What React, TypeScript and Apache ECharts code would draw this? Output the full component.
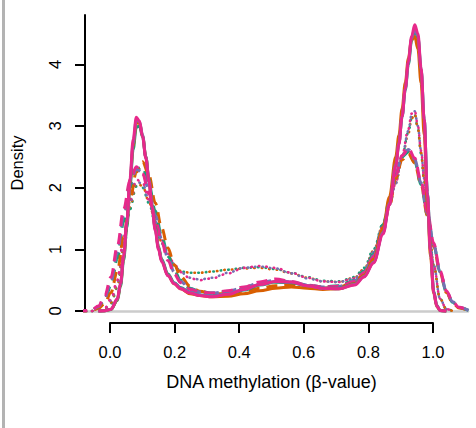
import React, { useEffect, useRef } from "react";
import * as echarts from "echarts";

// x grids (beta value) used for each line type
const xSolid = [-0.06,-0.04,-0.02,0.00,0.01,0.02,0.03,0.04,0.05,0.06,0.07,0.08,0.09,0.10,0.11,0.12,0.13,0.14,0.16,0.18,0.20,0.23,0.26,0.30,0.35,0.40,0.45,0.50,0.55,0.60,0.65,0.70,0.75,0.78,0.81,0.84,0.86,0.88,0.89,0.90,0.91,0.92,0.93,0.94,0.95,0.96,0.97,0.98,0.99,1.00,1.01,1.02,1.04];
const xDashed = [-0.13,-0.10,-0.08,-0.06,-0.04,-0.02,0.00,0.02,0.04,0.06,0.08,0.10,0.12,0.14,0.16,0.18,0.20,0.23,0.26,0.30,0.35,0.40,0.45,0.50,0.55,0.60,0.65,0.70,0.75,0.78,0.81,0.84,0.86,0.88,0.90,0.92,0.94,0.96,0.98,1.00,1.02,1.04,1.06,1.08,1.11];
const xDotted = [-0.08,-0.06,-0.04,-0.02,0.00,0.02,0.04,0.06,0.08,0.10,0.12,0.14,0.16,0.18,0.20,0.23,0.26,0.30,0.35,0.40,0.45,0.50,0.55,0.60,0.65,0.70,0.75,0.78,0.81,0.84,0.86,0.88,0.90,0.92,0.93,0.94,0.95,0.96,0.97,0.98,1.00,1.02,1.04,1.06];

// densities, solid lines
const greenSolid = [0,0.004,0.025,0.17,0.4,0.82,1.35,2.02,2.62,2.98,3.0,2.82,2.5,2.14,1.72,1.35,1.05,0.84,0.6,0.46,0.38,0.3,0.26,0.24,0.27,0.34,0.42,0.47,0.46,0.41,0.37,0.37,0.44,0.57,0.8,1.28,1.75,2.38,2.72,3.15,3.58,4.0,4.38,4.55,4.43,3.92,3.1,1.92,0.98,0.32,0.09,0.01,0];
const orangeSolid = [0,0.004,0.028,0.18,0.42,0.86,1.4,2.07,2.68,3.05,3.05,2.84,2.5,2.12,1.7,1.33,1.03,0.82,0.58,0.44,0.36,0.28,0.25,0.23,0.24,0.28,0.33,0.37,0.39,0.37,0.35,0.36,0.44,0.58,0.84,1.35,1.85,2.5,2.85,3.28,3.7,4.1,4.4,4.45,4.25,3.7,2.85,1.75,0.88,0.28,0.07,0.01,0];
const purpleSolid = [0,0.005,0.03,0.19,0.43,0.87,1.42,2.1,2.72,3.1,3.07,2.85,2.5,2.12,1.7,1.32,1.02,0.82,0.58,0.45,0.37,0.3,0.26,0.24,0.28,0.35,0.43,0.48,0.47,0.41,0.37,0.36,0.43,0.56,0.79,1.27,1.74,2.37,2.72,3.16,3.6,4.03,4.42,4.58,4.46,3.93,3.1,1.92,0.96,0.31,0.08,0.01,0];
const pinkSolid = [0,0.005,0.03,0.2,0.45,0.9,1.45,2.15,2.78,3.14,3.08,2.82,2.48,2.1,1.68,1.3,1.0,0.8,0.57,0.44,0.36,0.29,0.25,0.23,0.27,0.35,0.43,0.48,0.47,0.41,0.37,0.36,0.42,0.55,0.78,1.25,1.72,2.35,2.7,3.15,3.6,4.05,4.45,4.64,4.5,3.95,3.1,1.9,0.95,0.3,0.08,0.01,0];

// densities, dashed lines
const greenDashed = [0,0.003,0.015,0.06,0.18,0.42,0.85,1.45,2.0,2.3,2.33,2.05,1.62,1.22,0.9,0.66,0.5,0.37,0.32,0.29,0.31,0.36,0.43,0.47,0.46,0.41,0.39,0.41,0.5,0.65,0.92,1.4,1.8,2.22,2.5,2.58,2.42,2.05,1.56,1.07,0.63,0.31,0.14,0.05,0.01];
const orangeDashed = [0,0.002,0.01,0.04,0.12,0.3,0.65,1.2,1.8,2.25,2.42,2.2,1.75,1.35,1.02,0.75,0.56,0.4,0.32,0.28,0.28,0.32,0.37,0.41,0.42,0.39,0.37,0.39,0.47,0.6,0.85,1.3,1.7,2.15,2.45,2.55,2.4,2.05,1.55,1.05,0.62,0.3,0.13,0.05,0.01];
const purpleDashed = [0,0.004,0.018,0.07,0.21,0.48,0.95,1.55,2.05,2.3,2.25,1.95,1.55,1.17,0.86,0.63,0.48,0.36,0.31,0.29,0.32,0.38,0.46,0.5,0.47,0.42,0.39,0.4,0.49,0.63,0.9,1.37,1.78,2.22,2.52,2.62,2.46,2.08,1.58,1.08,0.64,0.32,0.15,0.06,0.01];
const pinkDashed = [0,0.005,0.02,0.08,0.25,0.55,1.05,1.65,2.12,2.34,2.22,1.9,1.5,1.12,0.82,0.6,0.46,0.35,0.31,0.29,0.33,0.39,0.47,0.52,0.48,0.42,0.39,0.40,0.48,0.62,0.88,1.35,1.75,2.2,2.52,2.64,2.48,2.1,1.6,1.1,0.65,0.33,0.15,0.06,0.01];

// densities, dotted lines
const greenDotted = [0,0.005,0.02,0.12,0.38,1.0,1.65,2.02,2.0,1.75,1.42,1.1,0.88,0.72,0.64,0.62,0.62,0.64,0.67,0.7,0.71,0.68,0.62,0.55,0.49,0.48,0.55,0.7,1.0,1.42,1.75,2.1,2.5,2.9,3.12,3.18,2.95,2.55,2.1,1.62,0.74,0.2,0.03,0];
const orangeDotted = [0,0.005,0.025,0.14,0.42,1.05,1.7,2.07,2.03,1.77,1.44,1.12,0.9,0.74,0.65,0.62,0.62,0.64,0.67,0.69,0.7,0.67,0.61,0.54,0.48,0.47,0.54,0.68,0.98,1.4,1.73,2.08,2.48,2.88,3.12,3.2,2.97,2.57,2.12,1.63,0.74,0.2,0.03,0];
const purpleDotted = [0,0.008,0.035,0.17,0.46,1.12,1.75,2.1,2.06,1.8,1.46,1.16,0.93,0.76,0.63,0.54,0.51,0.54,0.62,0.7,0.72,0.69,0.61,0.53,0.48,0.47,0.53,0.66,0.96,1.38,1.72,2.07,2.5,2.92,3.18,3.24,3.0,2.6,2.15,1.65,0.75,0.2,0.03,0];
const pinkDotted = [0,0.01,0.04,0.2,0.5,1.2,1.8,2.13,2.08,1.8,1.45,1.15,0.93,0.76,0.63,0.53,0.5,0.53,0.61,0.7,0.73,0.7,0.62,0.54,0.48,0.47,0.53,0.65,0.95,1.38,1.72,2.08,2.52,2.95,3.2,3.25,3.0,2.6,2.15,1.65,0.75,0.2,0.03,0];

const yTicks = [0, 1, 2, 3, 4];
const xTicks = [0, 0.2, 0.4, 0.6, 0.8, 1.0];
const groupNames = ["green", "orange", "purple", "pink"];
const groupColors = ["#1b9e77", "#d95f02", "#7570b3", "#e7298a"];
const solidSets = [greenSolid, orangeSolid, purpleSolid, pinkSolid];
const dashedSets = [greenDashed, orangeDashed, purpleDashed, pinkDashed];
const dottedSets = [greenDotted, orangeDotted, purpleDotted, pinkDotted];

const FONT = "Liberation Sans, Arial, Helvetica, sans-serif";

export default function App() {
  const ref = useRef<HTMLDivElement>(null);
  useEffect(() => {
    if (!ref.current) return;
    const chart = echarts.init(ref.current, null, { renderer: "svg" });
    const zip = (xs: number[], ys: number[]) => xs.map((x, i) => [x, ys[i]]);
    const series: any[] = [];
    const mk = (name: string, color: string, xs: number[], ys: number[], kind: string) => ({
      name,
      type: "line",
      xAxisIndex: 0,
      yAxisIndex: 0,
      data: zip(xs, ys),
      smooth: 0.35,
      smoothMonotone: "x",
      symbol: "none",
      clip: false,
      silent: true,
      lineStyle: {
        color,
        width: kind === "dotted" ? 2.6 : 3,
        type: kind === "solid" ? "solid" : kind === "dashed" ? [11, 7] : [0.5, 7],
        cap: kind === "dotted" ? "round" : "butt",
      },
    });
    groupNames.forEach((g, i) => series.push(mk(g + " dotted", groupColors[i], xDotted, dottedSets[i], "dotted")));
    groupNames.forEach((g, i) => series.push(mk(g + " dashed", groupColors[i], xDashed, dashedSets[i], "dashed")));
    groupNames.forEach((g, i) => series.push(mk(g + " solid", groupColors[i], xSolid, solidSets[i], "solid")));

    chart.setOption({
      animation: false,
      backgroundColor: "#ffffff",
      textStyle: { fontFamily: FONT },
      grid: [
        { left: 77, right: 8, top: 15, bottom: 117 },
        { left: 110, width: 323, top: 322, height: 1 },
      ],
      xAxis: [
        {
          type: "value",
          gridIndex: 0,
          min: -33 / 323,
          max: 358 / 323,
          axisLine: { show: true, onZero: false, lineStyle: { color: "#cccccc", width: 2.5 } },
          axisTick: { show: false },
          axisLabel: { show: false },
          splitLine: { show: false },
          z: 0,
        },
        {
          type: "value",
          gridIndex: 1,
          min: 0,
          max: 1,
          interval: 0.2,
          axisLine: { show: true, onZero: false, lineStyle: { color: "#000", width: 2 } },
          axisTick: { show: true, length: 10, lineStyle: { color: "#000", width: 2 }, customValues: xTicks },
          axisLabel: {
            show: true,
            customValues: xTicks,
            margin: 20,
            color: "#000",
            fontSize: 16.5,
            fontFamily: FONT,
            formatter: (v: number) => v.toFixed(1),
          },
          splitLine: { show: false },
          name: "DNA methylation (β-value)",
          nameLocation: "middle",
          nameGap: 50,
          nameTextStyle: { color: "#000", fontSize: 18, fontFamily: FONT },
        },
      ],
      yAxis: [
        {
          type: "value",
          gridIndex: 0,
          min: 0,
          max: 4.8,
          axisLine: { show: true, onZero: false, lineStyle: { color: "#000", width: 2 } },
          axisTick: { show: true, length: 10, lineStyle: { color: "#000", width: 2 }, customValues: yTicks },
          axisLabel: {
            show: true,
            customValues: yTicks,
            rotate: 90,
            margin: 22,
            color: "#000",
            fontSize: 16.5,
            fontFamily: FONT,
          },
          splitLine: { show: false },
          name: "Density",
          nameLocation: "middle",
          nameRotate: 90,
          nameGap: 60,
          nameTextStyle: { color: "#000", fontSize: 16.5, fontFamily: FONT },
        },
        { type: "value", gridIndex: 1, min: 0, max: 1, show: false },
      ],
      graphic: [
        {
          type: "line",
          shape: { x1: 3.5, y1: 0, x2: 3.5, y2: 428 },
          style: { stroke: "#b3b3b3", lineWidth: 3 },
        },
      ],
      series,
    });
    return () => chart.dispose();
  }, []);
  return (
    <div
      ref={ref}
      style={{ position: "fixed", left: 0, top: 0, width: 476, height: 428, background: "#fff" }}
    />
  );
}
